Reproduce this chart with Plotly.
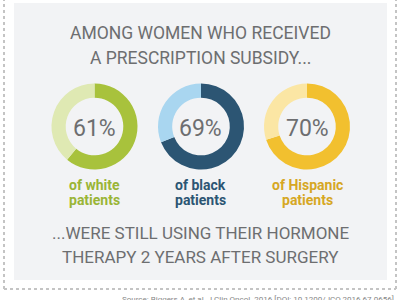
import plotly.graph_objects as go

groups = ["white", "black", "Hispanic"]
values = [61, 69, 70]
dark_colors = ["#a8c23c", "#2c5573", "#f2c02f"]
light_colors = ["#dfe9b3", "#a9d6f0", "#fbe6a4"]
label_colors = ["#9ab536", "#2c5573", "#d6a724"]
title_lines = ["AMONG WOMEN WHO RECEIVED", "A PRESCRIPTION SUBSIDY..."]
bottom_lines = ["...WERE STILL USING THEIR HORMONE", "THERAPY 2 YEARS AFTER SURGERY"]
source = "Source: Biggers A, et al. J Clin Oncol. 2016 [DOI: 10.1200/JCO.2016.67.0656]"

FONT = "Roboto, sans-serif"
GRAY = "#6d6e70"
W, H = 400, 300

fig = go.Figure()


def note(x_px, y_px, text, size, color, bold=False, xanchor="center", yanchor="middle"):
    fig.add_annotation(x=x_px / W, y=1 - y_px / H, xref="paper", yref="paper",
                       text=f"<b>{text}</b>" if bold else text, showarrow=False,
                       xanchor=xanchor, yanchor=yanchor,
                       font=dict(family=FONT, size=size, color=color))


centers_x = [94.5, 201, 307]
cy = 126.5
R = 43
for i, (g, v) in enumerate(zip(groups, values)):
    cx = centers_x[i]
    fig.add_trace(go.Pie(
        values=[v, 100 - v],
        labels=[f"{g} yes", f"{g} no"],
        marker=dict(colors=[dark_colors[i], light_colors[i]], line=dict(width=0)),
        hole=0.67,
        sort=False,
        direction="clockwise",
        rotation=0,
        textinfo="none",
        hoverinfo="label+percent",
        showlegend=False,
        domain=dict(x=[(cx - R) / W, (cx + R) / W], y=[1 - (cy + R) / H, 1 - (cy - R) / H]),
    ))
    note(cx, 128, f"{v}%", 23, GRAY)
    note(cx, 185, f"of {g}", 14, label_colors[i], bold=True)
    note(cx, 200, "patients", 14, label_colors[i], bold=True)

shapes = [
    dict(type="rect", xref="paper", yref="paper", x0=14 / W, x1=387 / W, y0=1 - 280 / H, y1=1 - 3 / H,
         fillcolor="#f2f3f5", line=dict(width=0), layer="below"),
    dict(type="line", xref="paper", yref="paper", x0=4 / W, x1=4 / W, y0=1 - 289 / H, y1=1,
         line=dict(color="#c4c4c4", width=2, dash="dot")),
    dict(type="line", xref="paper", yref="paper", x0=396 / W, x1=396 / W, y0=1 - 289 / H, y1=1,
         line=dict(color="#c4c4c4", width=2, dash="dot")),
    dict(type="line", xref="paper", yref="paper", x0=4 / W, x1=396 / W, y0=1 - 289 / H, y1=1 - 289 / H,
         line=dict(color="#c4c4c4", width=2, dash="dot")),
]

for txt, yy in zip(title_lines, [33, 58]):
    note(200, yy, txt, 17.5, GRAY)
for txt, yy in zip(bottom_lines, [233, 257]):
    note(200, yy, txt, 17, GRAY)

note(396, 293, source, 8, "#888888", xanchor="right", yanchor="top")

fig.update_layout(
    width=W, height=H,
    margin=dict(l=0, r=0, t=0, b=0),
    paper_bgcolor="white",
    plot_bgcolor="white",
    shapes=shapes,
)

fig.write_html("out.html")
